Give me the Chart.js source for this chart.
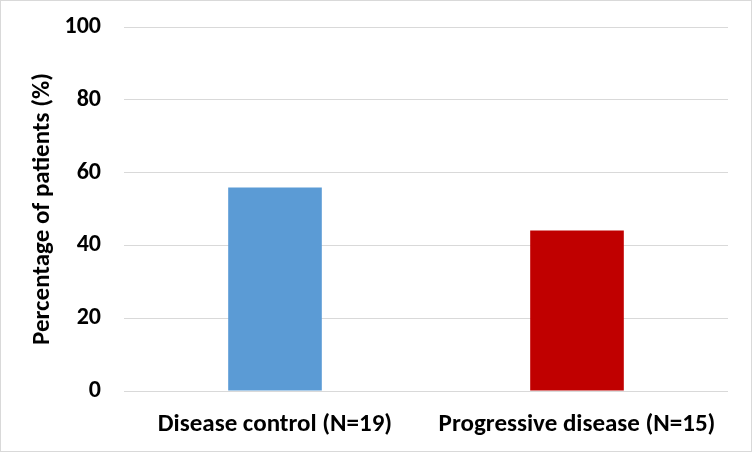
<!DOCTYPE html>
<html lang="en">
<head>
    <meta charset="UTF-8">
    <title>Percentage of patients</title>
    <script src="https://cdn.jsdelivr.net/npm/chart.js"></script>
    <style>
        body { margin: 0; background: #fff; }
        #wrap { width: 750px; height: 450px; border: 1px solid #D9D9D9; }
    </style>
</head>
<body>
    <div id="wrap"><canvas id="patientChart" width="750" height="450"></canvas></div>

    <script>
        const categories = ['Disease control (N=19)', 'Progressive disease (N=15)'];
        const percentages = [55.9, 44.1];
        const barColors = ['#5B9BD5', '#C00000'];
        const yTicks = [0, 20, 40, 60, 80, 100];

        const FONT = 'Carlito, Lato, sans-serif';

        const ctx = document.getElementById('patientChart').getContext('2d');
        const patientChart = new Chart(ctx, {
            type: 'bar',
            data: {
                labels: categories,
                datasets: [{ data: percentages, backgroundColor: barColors, barPercentage: 0.31, categoryPercentage: 1 }]
            },
            options: {
                responsive: false,
                animation: false,
                devicePixelRatio: 1,
                layout: { padding: { left: 23, right: 23, top: 26, bottom: 0 } },
                plugins: { legend: { display: false }, tooltip: { enabled: false } },
                scales: {
                    x: {
                        grid: { display: false },
                        border: { display: false },
                        ticks: { color: '#000', padding: 11, font: { family: FONT, size: 25, weight: 'bold' } },
                        afterFit: (axis) => { axis.height = 60; axis.paddingLeft = 0; axis.paddingRight = 0; }
                    },
                    y: {
                        min: 0,
                        max: 100,
                        afterBuildTicks: (axis) => { axis.ticks = yTicks.map(v => ({ value: v })); },
                        grid: { color: '#D9D9D9', drawTicks: false },
                        border: { display: false },
                        ticks: { color: '#000', padding: 23, font: { family: FONT, size: 24, weight: 'bold' } },
                        title: { display: true, text: 'Percentage of patients (%)', color: '#000', font: { family: FONT, size: 25, weight: 'bold' } },
                        afterFit: (axis) => { axis.width = 100; axis.paddingTop = 0; axis.paddingBottom = 0; }
                    }
                }
            }
        });
    </script>
</body>
</html>
